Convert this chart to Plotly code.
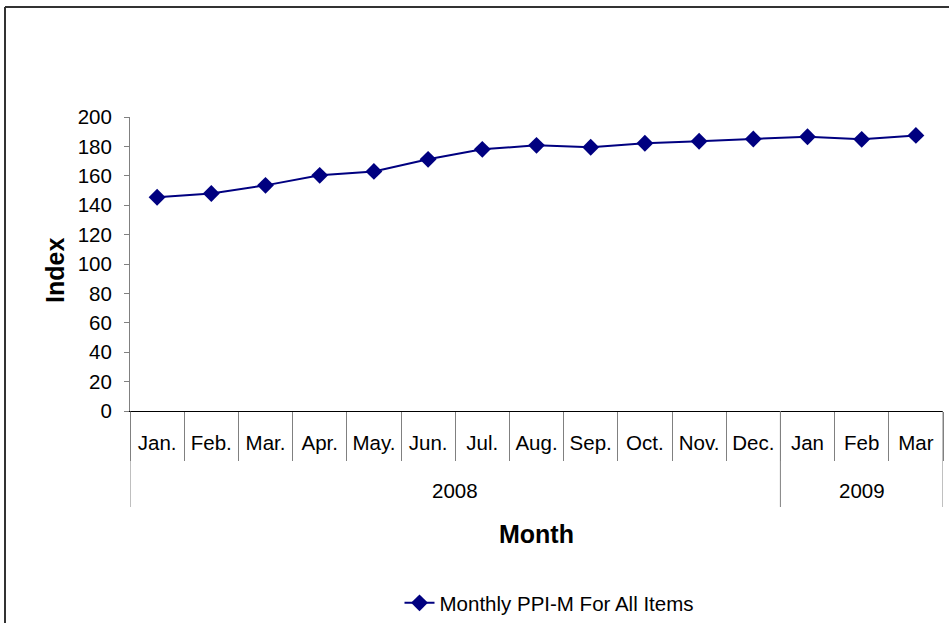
import plotly.graph_objects as go

years = ["2008"] * 12 + ["2009"] * 3
months = ["Jan.", "Feb.", "Mar.", "Apr.", "May.", "Jun.", "Jul.", "Aug.", "Sep.",
          "Oct.", "Nov.", "Dec.", "Jan", "Feb", "Mar"]
ppi = [145.4, 148.0, 153.5, 160.3, 163.0, 171.2, 178.0, 180.7, 179.4,
       182.1, 183.5, 185.0, 186.6, 184.8, 187.5]
series_name = "Monthly PPI-M For All Items"
y_ticks = list(range(0, 201, 20))

W, H = 949, 623
L, R, T, B = 130, 6, 117, 212
pw = W - L - R
ph = H - T - B

def py(pix):
    """pixel row -> paper y"""
    return (H - B - pix) / ph

def px(pix):
    """pixel column -> paper x"""
    return (pix - L) / pw

n = len(months)
xpos = [i + 0.5 for i in range(n)]

# year groups derived from data
groups = []
for i, yv in enumerate(years):
    if not groups or groups[-1][0] != yv:
        groups.append([yv, i, i + 1])
    else:
        groups[-1][2] = i + 1

fig = go.Figure()
fig.add_trace(go.Scatter(
    x=xpos, y=ppi, name=series_name, mode="lines+markers",
    line=dict(color="#000080", width=2),
    marker=dict(symbol="diamond", size=13, color="#000080"),
))

font = "Liberation Sans, Arial, sans-serif"
tick_fs = 20.5
fig.update_layout(
    width=W, height=H,
    margin=dict(l=L, r=R, t=T, b=B, autoexpand=False),
    paper_bgcolor="white", plot_bgcolor="white",
    font=dict(family=font, size=tick_fs, color="black"),
    showlegend=True,
    legend=dict(orientation="h", x=0.5 + 13 / pw, xanchor="center", y=py(603),
                yanchor="middle", font=dict(size=tick_fs), bgcolor="rgba(0,0,0,0)"),
    xaxis=dict(
        range=[0, n], tickvals=xpos, ticktext=months, showgrid=False, zeroline=False,
        showline=True, linecolor="black", linewidth=1,
        ticks="", ticklabelstandoff=13, tickfont=dict(size=tick_fs),
        minor=dict(tickvals=list(range(n + 1)), ticks="outside", ticklen=49,
                   tickcolor="#808080", tickwidth=1, showgrid=False),
    ),
    yaxis=dict(
        range=[0, 200], tickvals=y_ticks, showgrid=False, zeroline=False,
        showline=True, linecolor="#808080", linewidth=1,
        ticks="outside", ticklen=5, tickcolor="#808080",
        ticklabelstandoff=8, tickfont=dict(size=tick_fs),
    ),
)

# year dividers and year labels
bounds = sorted({g[1] for g in groups} | {g[2] for g in groups})
for b in bounds:
    fig.add_shape(type="line", xref="x", yref="paper", x0=b, x1=b, y0=0, y1=py(507),
                  line=dict(color="#808080", width=1))
for yv, s, e in groups:
    fig.add_annotation(x=(s + e) / 2, xref="x", y=py(490), yref="paper", text=yv,
                       showarrow=False, font=dict(size=tick_fs), yanchor="middle")

# axis titles
fig.add_annotation(x=0.5, xref="paper", y=py(534), yref="paper", text="<b>Month</b>",
                   showarrow=False, font=dict(size=25), yanchor="middle")
fig.add_annotation(x=px(55), xref="paper", y=py(271), yref="paper", text="<b>Index</b>",
                   showarrow=False, font=dict(size=25), textangle=-90,
                   xanchor="center", yanchor="middle")

# outer chart border (extends past the right and bottom edges)
bx = px(5)
by = py(7)
fig.add_shape(type="line", xref="paper", yref="paper", x0=bx, y0=by, x1=1.2, y1=by,
              line=dict(color="#333333", width=2))
fig.add_shape(type="line", xref="paper", yref="paper", x0=bx, y0=by, x1=bx, y1=-1.0,
              line=dict(color="#333333", width=2))

fig.write_html("out.html", config={"displayModeBar": False},
               post_script="document.body.style.margin='0';")
